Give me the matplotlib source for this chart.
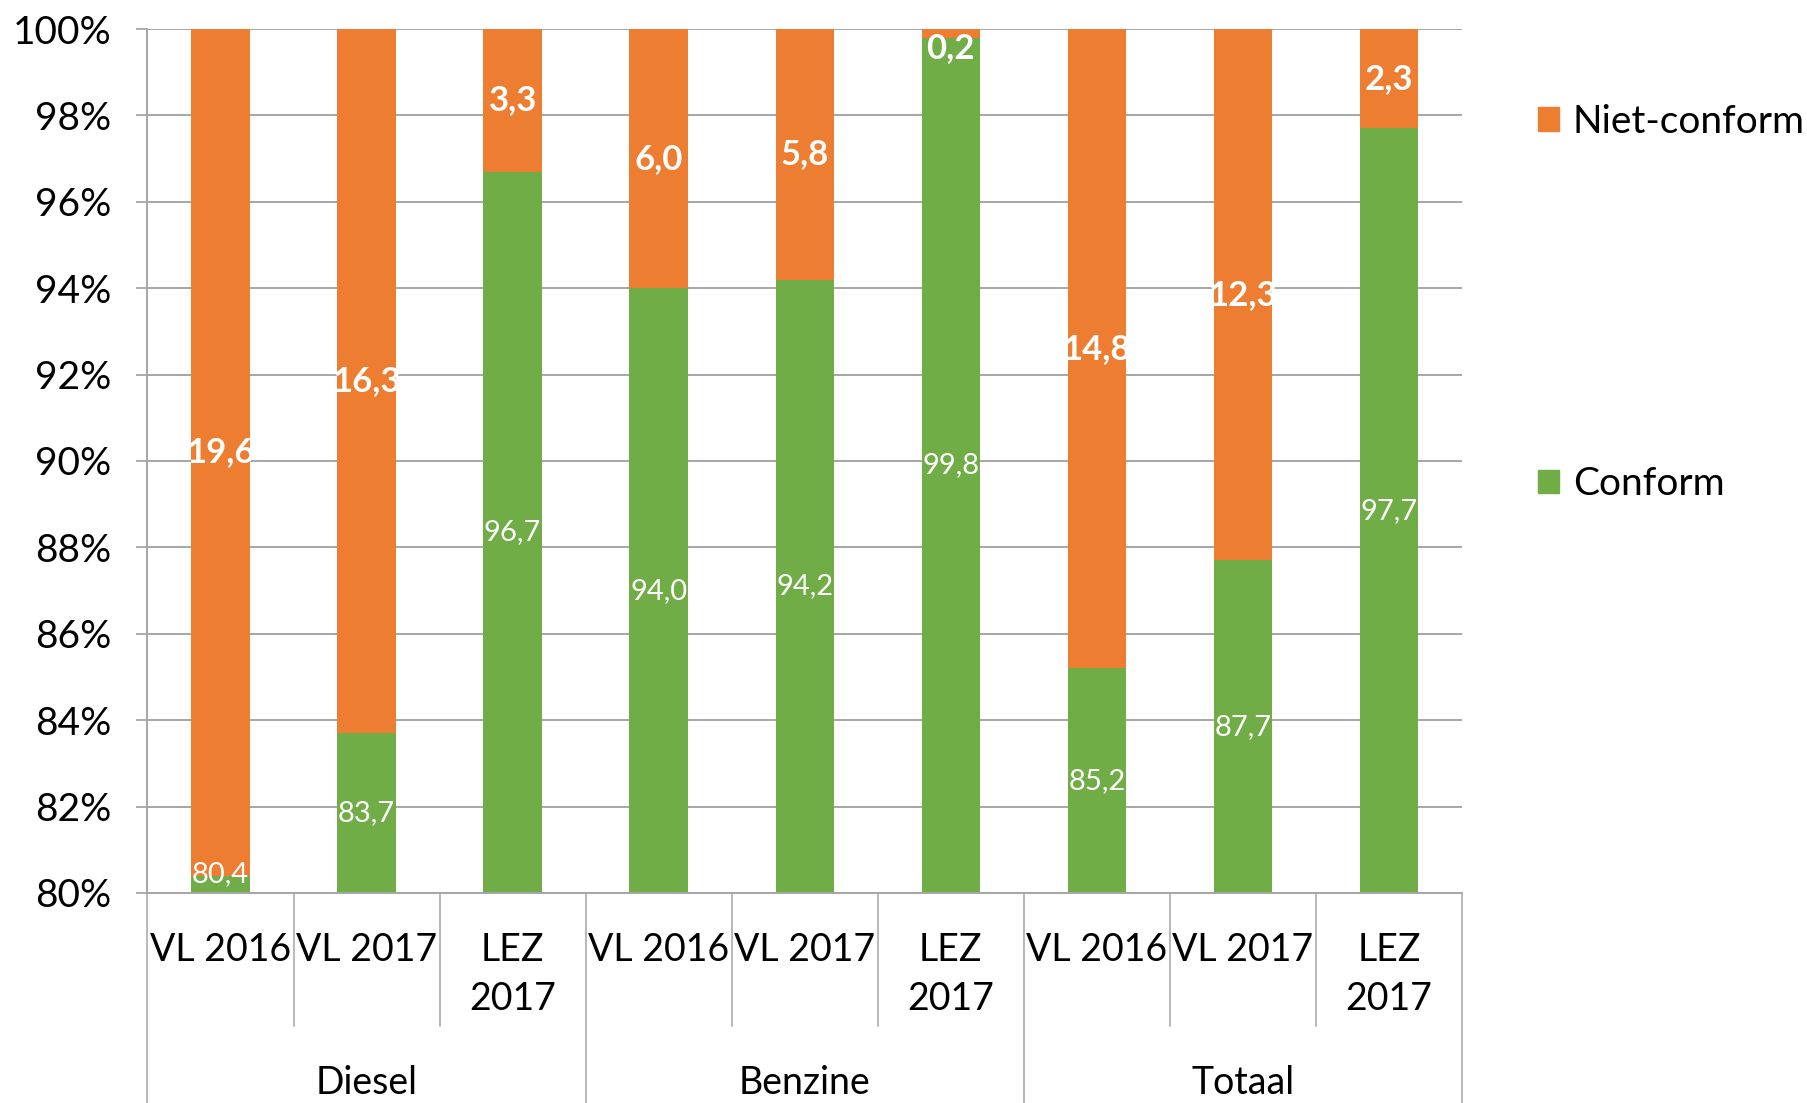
import matplotlib.pyplot as plt
from matplotlib.patches import Patch

# data (percent)
groups = ["Diesel", "Benzine", "Totaal"]
sub_labels = ["VL 2016", "VL 2017", "LEZ\n2017"]
conform = [80.4, 83.7, 96.7, 94.0, 94.2, 99.8, 85.2, 87.7, 97.7]
niet_conform = [19.6, 16.3, 3.3, 6.0, 5.8, 0.2, 14.8, 12.3, 2.3]

ORANGE = "#ED7D31"
GREEN = "#70AD47"
GRID = "#A6A6A6"

plt.rcParams["font.family"] = ["Lato", "DejaVu Sans"]


def fmt(v):
    return f"{v:.1f}".replace(".", ",")


def main() -> None:
    fig = plt.figure(figsize=(18.07, 11.03), dpi=100)
    ax = fig.add_axes([0.0816, 0.1904, 0.7275, 0.7833])

    n = len(conform)
    xs = list(range(n))
    ymin, ymax = 80, 100

    ax.bar(xs, conform, width=0.40, color=GREEN, zorder=2)
    ax.bar(xs, niet_conform, bottom=conform, width=0.40, color=ORANGE, zorder=2)

    # data labels, centred on the visible part of each segment (kept inside plot)
    lo, hi = ymin + 0.45, ymax - 0.45
    for x, c, nc in zip(xs, conform, niet_conform):
        yg = min(max((ymin + c) / 2, lo), hi)
        ax.text(x, yg, fmt(c), ha="center", va="center", color="white",
                fontsize=21, zorder=3)
        yo = min(max((c + ymax) / 2, lo), hi)
        ax.text(x, yo, fmt(nc), ha="center", va="center", color="white",
                fontsize=25, fontweight="bold", zorder=3)

    ax.set_xlim(-0.5, n - 0.5)
    ax.set_ylim(ymin, ymax)
    ax.set_yticks(range(80, 101, 2))
    ax.set_yticklabels([f"{v}%" for v in range(80, 101, 2)])
    ax.tick_params(axis="y", length=8, width=1.3, color=GRID, labelsize=28, pad=18)
    ax.set_xticks([])
    ax.yaxis.grid(True, color=GRID, linewidth=1.4, zorder=0)
    ax.set_axisbelow(True)
    for side in ["top", "right"]:
        ax.spines[side].set_visible(False)
    for side in ["left", "bottom"]:
        ax.spines[side].set_color(GRID)
        ax.spines[side].set_linewidth(1.4)

    # multi-level category axis
    tr = ax.get_xaxis_transform()
    per_group = len(sub_labels)
    for i, x in enumerate(xs):
        ax.text(x, -0.045, sub_labels[i % per_group], transform=tr, ha="center",
                va="top", fontsize=27, linespacing=1.45)
    for b in range(n + 1):
        xb = b - 0.5
        bottom = -0.243 if b % per_group == 0 else -0.154
        ax.plot([xb, xb], [0, bottom], transform=tr, color=GRID, linewidth=1.1,
                clip_on=False)
    for g, name in enumerate(groups):
        xc = g * per_group + (per_group - 1) / 2
        ax.text(xc, -0.22, name, transform=tr, ha="center", va="center",
                fontsize=27)

    handles = [Patch(color=ORANGE), Patch(color=GREEN)]
    fig.legend(handles, ["Niet-conform", "Conform"], loc="upper left",
               bbox_to_anchor=(0.8425, 0.92), frameon=False, fontsize=28,
               handlelength=0.55, handleheight=0.55, handletextpad=0.35,
               labelspacing=8.4, borderaxespad=0)

    fig.savefig("out.png", dpi=100)


if __name__ == "__main__":
    main()
